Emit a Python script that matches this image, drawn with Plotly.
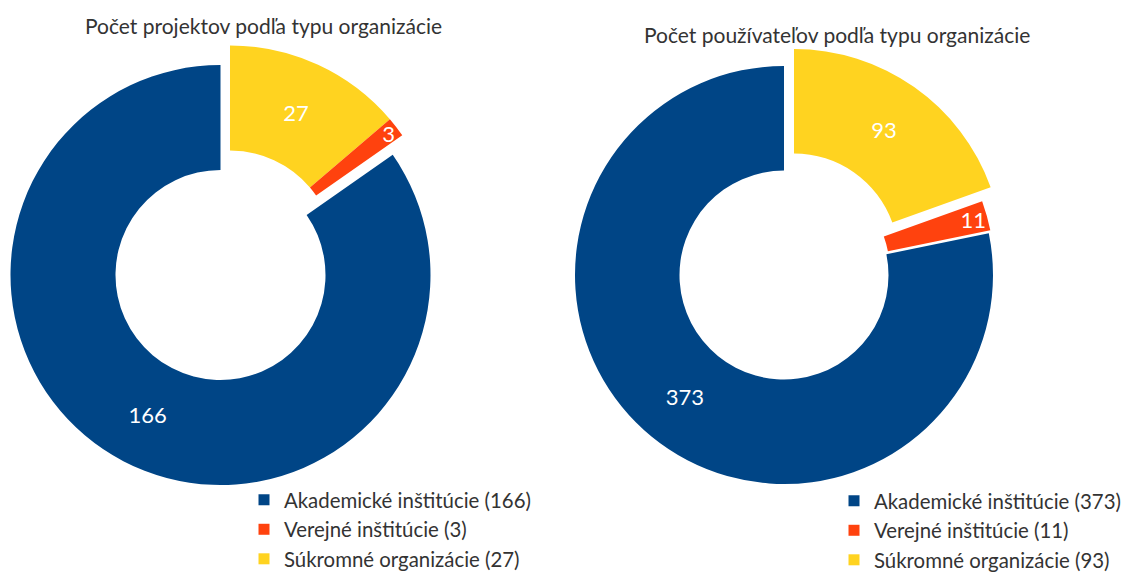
import plotly.graph_objects as go

# ---- data ----
categories = ["Akademické inštitúcie", "Verejné inštitúcie", "Súkromné organizácie"]
projects = [166, 3, 27]
users = [373, 11, 93]
titles = ["Počet projektov podľa typu organizácie", "Počet používateľov podľa typu organizácie"]

# ---- style ----
W, H = 1123, 572
COLORS = ["#004586", "#ff420e", "#ffd320"]
CLEAR = "rgba(0,0,0,0)"
FONT = "Lato"


def dom(cx, cy, r, dx=0.0, dy=0.0):
    x0, x1 = cx + dx - r, cx + dx + r
    y0, y1 = cy + dy - r, cy + dy + r
    return dict(x=[x0 / W, x1 / W], y=[(H - y1) / H, (H - y0) / H])


def pie(values, show, domain):
    n = len(values)
    # drawn clockwise from 12 o'clock in reversed order -> first category runs
    # counter-clockwise from 12 o'clock, as in the reference
    order = list(range(n))[::-1]
    return go.Pie(
        labels=[categories[i] for i in order],
        values=[values[i] for i in order],
        sort=False,
        direction="clockwise",
        rotation=0,
        hole=0.5,
        domain=domain,
        marker=dict(colors=[COLORS[i] if i in show else CLEAR for i in order],
                    line=dict(width=0)),
        texttemplate=["%{value}" if i in show else "" for i in order],
        textposition="inside",
        insidetextorientation="horizontal",
        textfont=dict(family=FONT, size=22, color="white"),
        showlegend=False,
        hoverinfo="skip",
    )


fig = go.Figure()

# left chart: blue base, yellow+red translated together
L = dict(cx=220.5, cy=275, r=210)
fig.add_trace(pie(projects, {0}, dom(**L)))
fig.add_trace(pie(projects, {1, 2}, dom(**L, dx=9.5, dy=-19.5)))

# right chart: blue base, red slightly moved, yellow translated
R = dict(cx=784, cy=275, r=209)
fig.add_trace(pie(users, {0}, dom(**R)))
fig.add_trace(pie(users, {1}, dom(**R, dx=1.5, dy=-3)))
fig.add_trace(pie(users, {2}, dom(**R, dx=10, dy=-17)))

# legend entries
for li, (vals, leg) in enumerate([(projects, "legend"), (users, "legend2")]):
    for i, c in enumerate(categories):
        fig.add_trace(go.Scatter(
            x=[None], y=[None], mode="markers",
            marker=dict(symbol="square", size=11, color=COLORS[i]),
            name=f"{c} ({vals[i]})",
            legend=leg, legendgroup=f"{leg}{i}", showlegend=True,
        ))

legend_style = dict(
    font=dict(family=FONT, size=20.4, color="#333333"),
    bgcolor="rgba(0,0,0,0)", borderwidth=0,
    traceorder="grouped", tracegroupgap=0,
    xanchor="left", yanchor="top", itemclick=False, itemdoubleclick=False,
)

fig.update_layout(
    width=W, height=H,
    margin=dict(l=0, r=0, t=0, b=0, autoexpand=False),
    paper_bgcolor="white", plot_bgcolor="white",
    xaxis=dict(visible=False), yaxis=dict(visible=False),
    legend=dict(**legend_style, x=244 / W, y=(H - 480) / H),
    legend2=dict(**legend_style, x=834 / W, y=(H - 481) / H),
    annotations=[
        dict(text=titles[0], x=263.5 / W, y=(H - 26) / H, xref="paper", yref="paper",
             showarrow=False, xanchor="center", yanchor="middle",
             font=dict(family=FONT, size=21, color="#333333")),
        dict(text=titles[1], x=837 / W, y=(H - 35) / H, xref="paper", yref="paper",
             showarrow=False, xanchor="center", yanchor="middle",
             font=dict(family=FONT, size=21, color="#333333")),
    ],
    uniformtext=dict(minsize=22, mode="show"),
)

fig.write_html("out.html", config={"displayModeBar": False},
               post_script="document.body.style.margin='0';document.body.style.overflow='hidden';")
